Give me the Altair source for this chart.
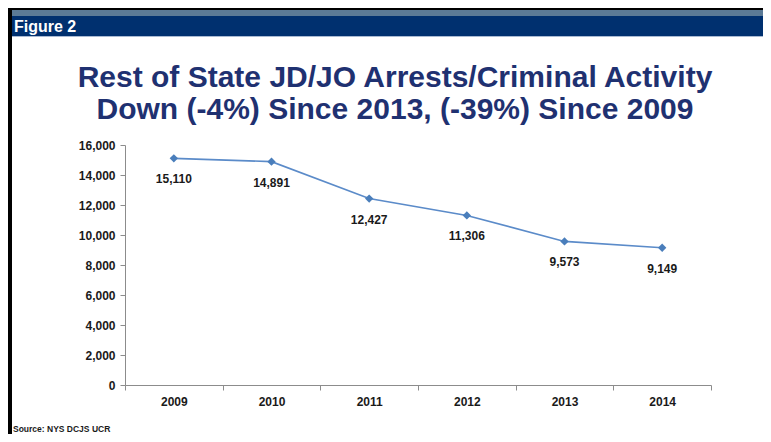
import altair as alt
import pandas as pd

years = ["2009", "2010", "2011", "2012", "2013", "2014"]
arrests = [15110, 14891, 12427, 11306, 9573, 9149]
y_ticks = [0, 2000, 4000, 6000, 8000, 10000, 12000, 14000, 16000]

title_lines = ["Rest of State JD/JO Arrests/Criminal Activity",
               "Down (-4%) Since 2013, (-39%) Since 2009"]
figure_label = "Figure 2"
source_text = "Source: NYS DCJS UCR"

df = pd.DataFrame({"year": years, "arrests": arrests})
one = pd.DataFrame({"a": [0]})

FONT = "Liberation Sans"
NAVY = "#00306f"
TITLE_C = "#1f3171"
LINE_C = "#5b8bc9"
MARK_C = "#4a7ebb"

W, H = 586, 240

x_enc = alt.X("year:O", sort=years,
              scale=alt.Scale(type="band", paddingInner=0, paddingOuter=0),
              axis=alt.Axis(title=None, labelAngle=0, tickBand="extent",
                            labelFont=FONT, labelFontWeight="bold", labelFontSize=12,
                            labelColor="#1a1a1a", domainColor="#8c8c8c", tickColor="#8c8c8c",
                            tickSize=5, labelPadding=6))
y_enc = alt.Y("arrests:Q",
              scale=alt.Scale(domain=[0, 16000], nice=False),
              axis=alt.Axis(title=None, values=y_ticks, format=",.0f", grid=False,
                            labelFont=FONT, labelFontWeight="bold", labelFontSize=12,
                            labelColor="#1a1a1a", domainColor="#8c8c8c", tickColor="#8c8c8c",
                            tickSize=5, labelPadding=5))

line = alt.Chart(df).mark_line(color=LINE_C, strokeWidth=1.6).encode(x=x_enc, y=y_enc)
pts = alt.Chart(df).mark_point(shape="diamond", filled=True, size=70, color=MARK_C, opacity=1).encode(x=x_enc, y=y_enc)
labels = alt.Chart(df).mark_text(dy=21, font=FONT, fontWeight="bold", fontSize=12,
                                 color="#1a1a1a", baseline="middle").encode(
    x=x_enc, y=y_enc, text=alt.Text("arrests:Q", format=","))


def rect(x1, x2, y1, y2, color):
    return alt.Chart(one).mark_rect(color=color).encode(
        x=alt.value(x1), x2=alt.value(x2), y=alt.value(y1), y2=alt.value(y2))


deco = [
    rect(-117, -113, -137, 289, "#000000"),
    rect(-117, 638, -137, -135, "#000000"),
    rect(-113, 638, -135, -129, "#5b7a96"),
    rect(-113, 638, -129, -109, NAVY),
    rect(-113, 638, -109, -108, "#a9bad3"),
]

fig_txt = alt.Chart(one).mark_text(align="left", baseline="alphabetic", font=FONT,
                                   fontWeight="bold", fontSize=16, color="#ffffff").encode(
    x=alt.value(-111), y=alt.value(-113), text=alt.value(figure_label))

t1 = alt.Chart(one).mark_text(align="center", baseline="alphabetic", font=FONT,
                              fontWeight="bold", fontSize=30, color=TITLE_C).encode(
    x=alt.value(270), y=alt.value(-58), text=alt.value(title_lines[0]))
t2 = alt.Chart(one).mark_text(align="center", baseline="alphabetic", font=FONT,
                              fontWeight="bold", fontSize=30, color=TITLE_C).encode(
    x=alt.value(270), y=alt.value(-26), text=alt.value(title_lines[1]))

src = alt.Chart(one).mark_text(align="left", baseline="alphabetic", font=FONT,
                               fontWeight="bold", fontSize=8.5, color="#1a1a1a").encode(
    x=alt.value(-112), y=alt.value(287), text=alt.value(source_text))

chart = alt.layer(*deco, fig_txt, t1, t2, src, line, pts, labels).properties(
    width=W, height=H,
    autosize=alt.AutoSizeParams(type="none"),
    padding={"left": 117, "top": 137, "right": 52, "bottom": 49},
).configure(background="#ffffff").configure_view(strokeWidth=0, stroke=None)

chart.save("out.html", embed_options={"renderer": "svg", "actions": False})
